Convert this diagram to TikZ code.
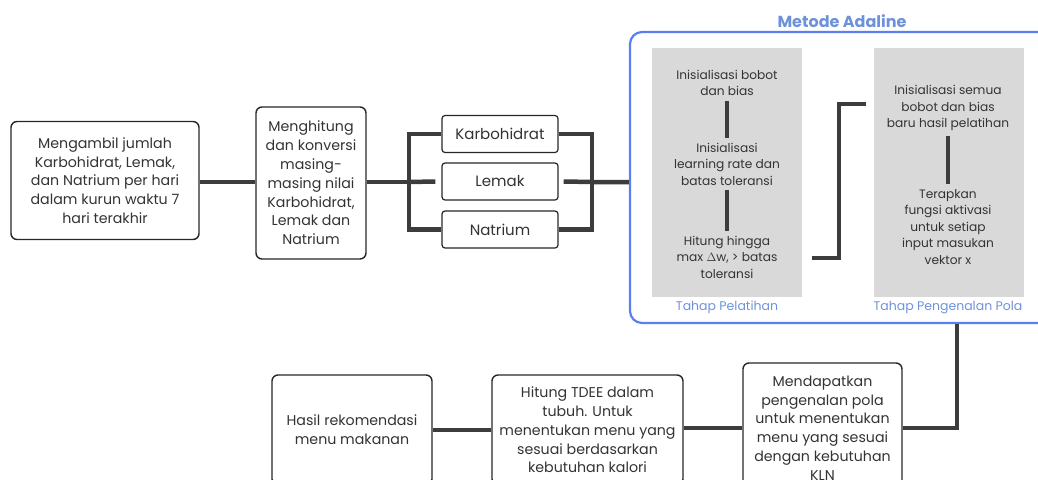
\documentclass[tikz,border=0pt]{standalone}
\usepackage{fontspec}
\setmainfont{Poppins}
\usetikzlibrary{calc}
\definecolor{txt}{HTML}{333333}
\definecolor{conn}{HTML}{3C3C3C}
\definecolor{blueb}{HTML}{5A7FEE}
\definecolor{bluet}{HTML}{6E92DA}
\definecolor{panel}{HTML}{D9D9D9}
\tikzset{
  box/.style={draw=black!85, line width=1.4pt, rounded corners=6pt, align=center, text=txt, inner sep=2pt,
    font=\fontsize{14.2}{18.8}\selectfont},
  smallbox/.style={draw=black!85, line width=1.2pt, rounded corners=3pt, align=center, text=txt,
    minimum width=116pt, minimum height=37pt, font=\fontsize{15}{16}\selectfont},
  conn/.style={draw=conn, line width=4.5pt},
  bar/.style={draw=conn, line width=4pt},
  ptext/.style={align=center, text=txt, inner xsep=0pt, inner ysep=5pt, font=\fontsize{12.2}{16.5}\selectfont},
  plabel/.style={text=bluet, font=\fontsize{12.5}{13}\selectfont},
}
\begin{document}
\begin{tikzpicture}[x=1pt,y=-1pt]
\useasboundingbox (0,0) rectangle (1038,479);
\clip (0,0) rectangle (1038,479);
% top row
\node[box, minimum width=188pt, minimum height=118pt] (n1) at (105,180.5)
  {Mengambil jumlah\\Karbohidrat, Lemak,\\dan Natrium per hari\\dalam kurun waktu 7\\hari terakhir};
\node[box, minimum width=110pt, minimum height=152pt] (n2) at (311,183)
  {Menghitung\\dan konversi\\masing-\\masing nilai\\Karbohidrat,\\Lemak dan\\Natrium};
\node[smallbox] (k) at (500,134) {Karbohidrat};
\node[smallbox] (l) at (500,181.5) {Lemak};
\node[smallbox] (nt) at (500,229.5) {Natrium};
% blue container
\node[draw=blueb, line width=2.2pt, rounded corners=12pt, minimum width=430pt, minimum height=291pt, inner sep=0pt] (blue) at (845,177.5) {};
\node[text=bluet, font=\bfseries\fontsize{16}{18}\selectfont] (title) at (842,21) {Metode Adaline};
\fill[panel] (652,48) rectangle (802,297);
\fill[panel] (874,48) rectangle (1024,297);
\node[ptext] (t1) at (727,83) {Inisialisasi bobot\\dan bias};
\node[ptext] (t2) at (727,164) {Inisialisasi\\learning rate dan\\batas toleransi};
\node[ptext] (t3) at (727,257) {Hitung hingga\\max $\Delta$w, > batas\\toleransi};
\node[ptext] (u1) at (948,108) {Inisialisasi semua\\bobot dan bias\\baru hasil pelatihan};
\node[ptext] (u2) at (948,227) {Terapkan\\fungsi aktivasi\\untuk setiap\\input masukan\\vektor x};
\node[plabel] (lab1) at (727,307) {Tahap Pelatihan};
\node[plabel] (lab2) at (948,308) {Tahap Pengenalan Pola};
\draw[bar] (t1.south) -- (t2.north);
\draw[bar] (t2.south) -- (t3.north);
\draw[bar] (u1.south) -- (u2.north);
\coordinate (pa) at (812,258);
\coordinate (pb) at (866,104);
\draw[conn] (pa) -- (839,258) -- (839,104) -- (pb);
% bottom row
\node[box, minimum width=159pt, minimum height=130pt] (m) at (822.5,428)
  {Mendapatkan\\pengenalan pola\\untuk menentukan\\menu yang sesuai\\dengan kebutuhan\\KLN};
\node[box, minimum width=191pt, minimum height=110pt] (h) at (587.5,430)
  {Hitung TDEE dalam\\tubuh. Untuk\\menentukan menu yang\\sesuai berdasarkan\\kebutuhan kalori};
\node[box, minimum width=160pt, minimum height=110pt] (r) at (352,430)
  {Hasil rekomendasi\\menu makanan};
% connectors
\coordinate (y1) at (0,182);
\draw[conn] (n1.east |- y1) -- (n2.west |- y1);
\draw[conn] (n2.east |- y1) -- (409,182);
\draw[conn] (k.west) -- (409,134) -- (409,229.5) -- (nt.west);
\draw[conn] (409,182) -- ($(l.west)+(-6,0)$);
\draw[conn] (k.east) -- (592,134) -- (592,229.5) -- (nt.east);
\draw[conn] ($(l.east)+(5,0)$) -- (592,182) -- (blue.west |- y1);
\coordinate (bx) at (957,0);
\draw[conn] (m.east) -| (blue.south -| bx);
\draw[conn] (h.east |- m) -- (m.west);
\draw[conn] (r.east) -- (h.west);
\end{tikzpicture}
\end{document}
